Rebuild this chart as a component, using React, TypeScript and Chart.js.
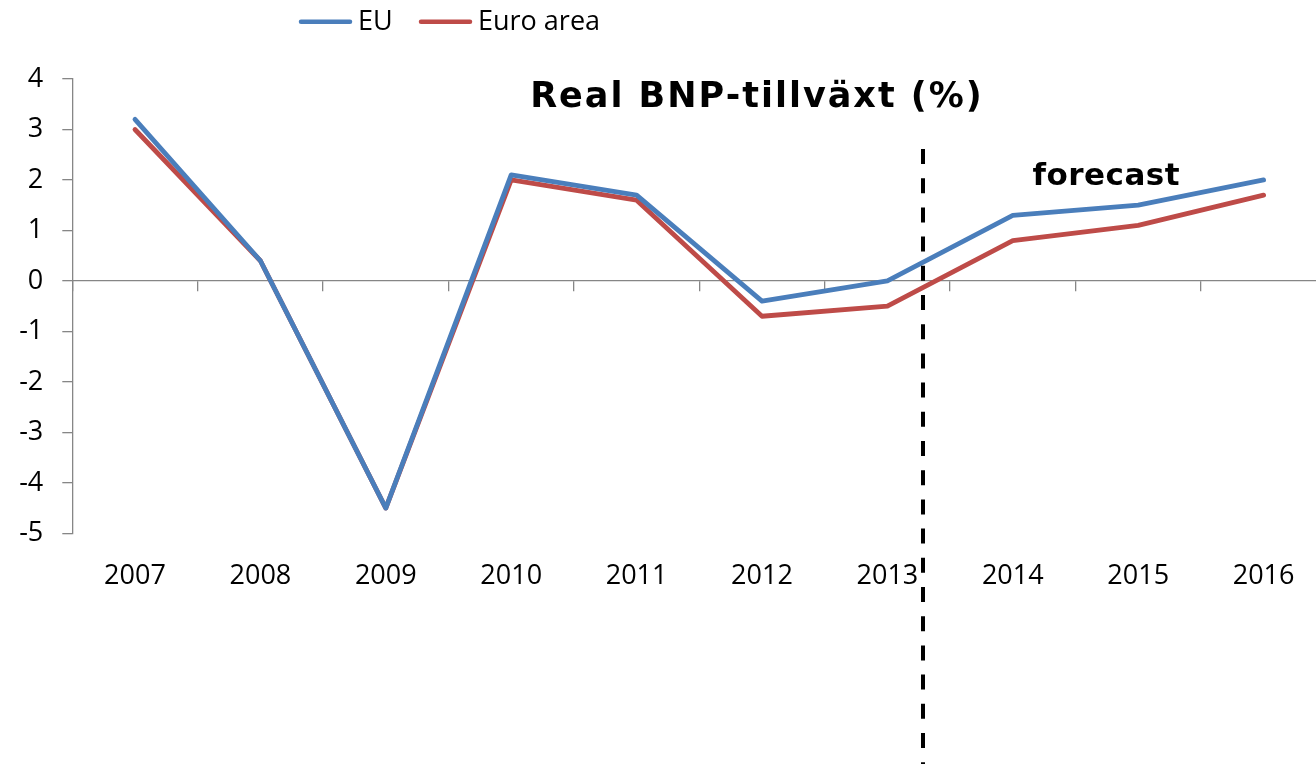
import React, { useEffect, useRef } from "react";
import { Chart, registerables } from "chart.js";

Chart.register(...registerables);

const years = ["2007", "2008", "2009", "2010", "2011", "2012", "2013", "2014", "2015", "2016"];
const euGrowth = [3.2, 0.4, -4.5, 2.1, 1.7, -0.4, 0.0, 1.3, 1.5, 2.0];
const euroAreaGrowth = [3.0, 0.4, -4.5, 2.0, 1.6, -0.7, -0.5, 0.8, 1.1, 1.7];
const seriesLabels = ["EU", "Euro area"];
const seriesColors = ["#4A7EBB", "#BE4B48"];
const yMin = -5;
const yMax = 4;
const yStep = 1;
const chartTitle = "Real BNP-tillväxt (%)";
const forecastLabel = "forecast";
const forecastDividerIndex = 6.28;

const AXIS_GRAY = "#868686";
const LABEL_FONT = '"Open Sans", "DejaVu Sans", sans-serif';

const overlayPlugin = {
  id: "overlay",
  afterDraw(chart: any) {
    const ctx = chart.ctx as any;
    const xs = chart.scales.x;
    ctx.save();
    // dashed forecast divider
    const dx = Math.round(xs.getPixelForValue(forecastDividerIndex));
    ctx.strokeStyle = "#000";
    ctx.lineWidth = 4;
    ctx.setLineDash([15, 14.2]);
    ctx.beginPath();
    ctx.moveTo(dx, 149);
    ctx.lineTo(dx, 764);
    ctx.stroke();
    ctx.setLineDash([]);

    // title and forecast label
    ctx.fillStyle = "#000";
    ctx.textAlign = "left";
    ctx.textBaseline = "alphabetic";
    ctx.font = 'bold 35px "DejaVu Sans", sans-serif';
    ctx.letterSpacing = "2px";
    let w = ctx.measureText(chartTitle).width - 2;
    ctx.fillText(chartTitle, 756 - w / 2, 107);
    ctx.font = 'bold 31px "DejaVu Sans", sans-serif';
    ctx.letterSpacing = "0.5px";
    w = ctx.measureText(forecastLabel).width - 0.5;
    ctx.fillText(forecastLabel, 1106 - w / 2, 185);
    ctx.letterSpacing = "0px";

    // legend
    const legendPos = [
      { line: 299, text: 358 },
      { line: 419, text: 478 },
    ];
    chart.data.datasets.forEach((ds: any, i: number) => {
      const p = legendPos[i];
      ctx.strokeStyle = ds.borderColor;
      ctx.lineWidth = 4.5;
      ctx.lineCap = "round";
      ctx.beginPath();
      ctx.moveTo(p.line + 2, 21.7);
      ctx.lineTo(p.line + 51, 21.7);
      ctx.stroke();
      ctx.fillStyle = "#000";
      ctx.textAlign = "left";
      ctx.font = `27px ${LABEL_FONT}`;
      ctx.fillText(ds.label, p.text, 30);
    });
    ctx.restore();
  },
};

export default function App() {
  const canvasRef = useRef<HTMLCanvasElement | null>(null);

  useEffect(() => {
    document.documentElement.style.overflow = "hidden";
    document.body.style.overflow = "hidden";
    const canvas = canvasRef.current;
    if (!canvas) return;
    const chart = new Chart(canvas, {
      type: "line",
      data: {
        labels: years,
        datasets: [
          {
            label: seriesLabels[0],
            data: euGrowth,
            borderColor: seriesColors[0],
            backgroundColor: seriesColors[0],
            borderWidth: 4.8,
            pointRadius: 0,
            tension: 0,
            borderJoinStyle: "round",
            borderCapStyle: "round",
          },
          {
            label: seriesLabels[1],
            data: euroAreaGrowth,
            borderColor: seriesColors[1],
            backgroundColor: seriesColors[1],
            borderWidth: 4.8,
            pointRadius: 0,
            tension: 0,
            borderJoinStyle: "round",
            borderCapStyle: "round",
          },
        ],
      },
      options: {
        animation: false,
        responsive: false,
        devicePixelRatio: 1,
        layout: { padding: { left: 0, right: 3.7, top: 79, bottom: 160.7 } },
        plugins: {
          legend: { display: false },
          title: { display: false },
          tooltip: { enabled: false },
        },
        scales: {
          x: {
            type: "category",
            position: "bottom",
            offset: true,
            grid: { display: false, drawTicks: false },
            border: { display: false },
            ticks: {
              color: "#000",
              font: { family: LABEL_FONT, size: 27 },
              padding: 27,
              maxRotation: 0,
              autoSkip: false,
            },
            afterFit: (s: any) => {
              s.height = 70;
            },
          },
          x2: {
            type: "category",
            position: { y: 0 } as any,
            offset: true,
            grid: {
              offset: true,
              drawOnChartArea: false,
              drawTicks: true,
              tickLength: 10,
              color: AXIS_GRAY,
              lineWidth: 1.3,
            },
            border: { display: true, color: AXIS_GRAY, width: 1.3 },
            ticks: { display: false },
          },
          y: {
            type: "linear",
            min: yMin,
            max: yMax,
            ticks: {
              stepSize: yStep,
              color: "#000",
              font: { family: LABEL_FONT, size: 27 },
              padding: 19,
            },
            grid: {
              drawOnChartArea: false,
              drawTicks: true,
              tickLength: 10,
              color: AXIS_GRAY,
              lineWidth: 1.3,
            },
            border: { display: true, color: AXIS_GRAY, width: 1.3 },
            afterFit: (s: any) => {
              s.width = 72.3;
            },
          },
        },
      },
      plugins: [overlayPlugin],
    });
    return () => chart.destroy();
  }, []);

  return (
    <div style={{ position: "fixed", left: 0, top: 0, width: 1330, height: 764, background: "#fff" }}>
      <canvas ref={canvasRef} width={1330} height={764} style={{ width: 1330, height: 764, display: "block" }} />
    </div>
  );
}
